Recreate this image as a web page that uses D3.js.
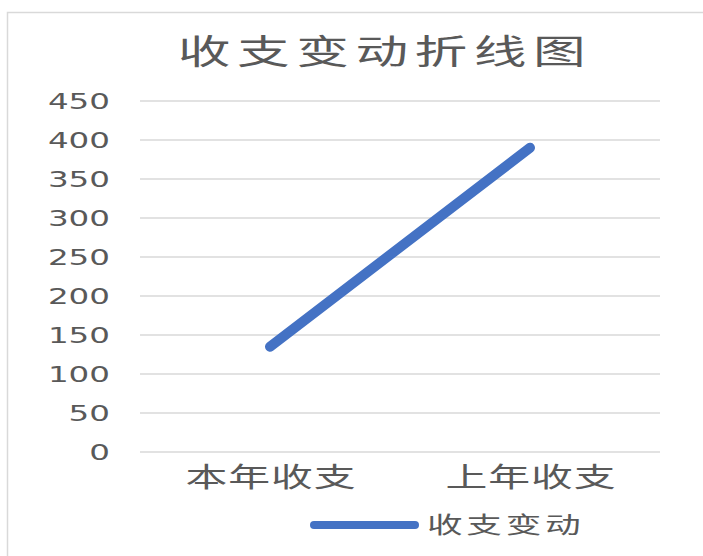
<!DOCTYPE html>
<html><head><meta charset="utf-8">
<script src="https://cdn.jsdelivr.net/npm/d3@7"></script>
<style>body{margin:0;background:#fff}svg{display:block}</style>
</head><body>
<div id="chart"></div>
<script>
const title = "收支变动折线图";
const categories = ["本年收支", "上年收支"];
const seriesName = "收支变动";
const values = [135, 390];
const yTicks = [0, 50, 100, 150, 200, 250, 300, 350, 400, 450];

const W = 703, H = 556;
const SX = 1.55; // horizontal stretch seen in the reference
const svg = d3.select("#chart").append("svg").attr("width", W).attr("height", H);
const cjk = "'Noto Sans CJK SC', 'Noto Sans', sans-serif";
const textColor = "#595959";

svg.append("rect").attr("x", 7.5).attr("y", 12.5).attr("width", W).attr("height", H)
  .attr("fill", "#fff").attr("stroke", "#d9d9d9").attr("stroke-width", 1.5);

const x = d3.scalePoint().domain(categories).range([140, 660]).padding(0.5);
const y = d3.scaleLinear().domain([0, 450]).range([452, 101]);

// gridlines
svg.append("g").selectAll("line").data(yTicks).join("line")
  .attr("x1", 140).attr("x2", 660)
  .attr("y1", d => y(d)).attr("y2", d => y(d))
  .attr("stroke", "#d9d9d9").attr("stroke-width", 1.3);

// y tick labels
svg.append("g").selectAll("text").data(yTicks).join("text")
  .attr("transform", d => `translate(110,${y(d) + 7.5}) scale(${SX},1)`)
  .attr("text-anchor", "end")
  .attr("font-family", "'DejaVu Sans', sans-serif").attr("font-size", 21)
  .attr("fill", textColor).text(d => d);

// x category labels
svg.append("g").selectAll("text").data(categories).join("text")
  .attr("transform", d => `translate(${x(d) + 1},${487}) scale(${SX},1)`)
  .attr("text-anchor", "middle")
  .attr("font-family", cjk).attr("font-size", 27).attr("letter-spacing", 0.6)
  .attr("fill", textColor).text(d => d);

// title
svg.append("text")
  .attr("transform", `translate(385,${64}) scale(${SX},1)`)
  .attr("text-anchor", "middle")
  .attr("font-family", cjk).attr("font-size", 34).attr("letter-spacing", 4.2)
  .attr("fill", textColor).text(title);

// line
const line = d3.line().x((d, i) => x(categories[i])).y(d => y(d));
svg.append("path").datum(values).attr("d", line)
  .attr("fill", "none").attr("stroke", "#4472C4").attr("stroke-width", 10)
  .attr("stroke-linecap", "round").attr("stroke-linejoin", "round");

// legend
svg.append("line").attr("x1", 314).attr("x2", 415).attr("y1", 525).attr("y2", 525)
  .attr("stroke", "#4472C4").attr("stroke-width", 8).attr("stroke-linecap", "round");
svg.append("text")
  .attr("transform", `translate(427,${533}) scale(${SX},1)`)
  .attr("font-family", cjk).attr("font-size", 23).attr("letter-spacing", 2.4)
  .attr("fill", textColor).text(seriesName);
</script>
</body></html>
